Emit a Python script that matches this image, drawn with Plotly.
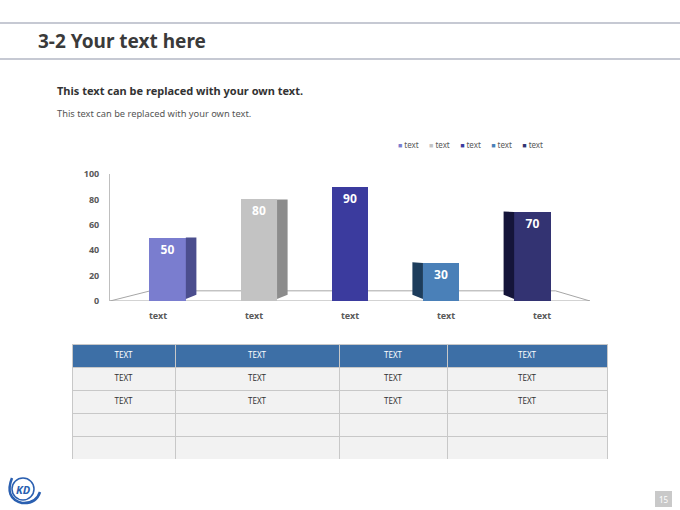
import plotly.graph_objects as go

# ---- data ----
categories = ["text", "text ", "text  ", "text   ", "text    "]
cat_labels = ["text", "text", "text", "text", "text"]
series_names = ["text", "text", "text", "text", "text"]
values = [50, 80, 90, 30, 70]
front_colors = ["#7a7dcf", "#c3c3c3", "#3b3b9e", "#4a80b8", "#333372"]
side_colors = ["#4b4e8e", "#8c8c8c", "#2a2a78", "#1d3d5c", "#15153a"]
y_ticks = [0, 20, 40, 60, 80, 100]

table_header = ["TEXT", "TEXT", "TEXT", "TEXT"]
table_rows = [
    ["TEXT", "TEXT", "TEXT", "TEXT"],
    ["TEXT", "TEXT", "TEXT", "TEXT"],
    ["", "", "", ""],
    ["", "", "", ""],
]
col_widths = [103, 164, 108, 160]

W, H = 680, 510
def px(x):
    return x / W
def py(y):
    return 1 - y / H

fig = go.Figure()

bar_w = 0.38
persp = 0.05  # perspective shift of bars toward the centre
shifts = [(2 - i) * persp for i in range(len(values))]
for i, (c, n, v, col) in enumerate(zip(categories, series_names, values, front_colors)):
    fig.add_trace(go.Bar(
        x=[c], y=[v], name=n, width=bar_w, offset=-bar_w / 2 + shifts[i],
        marker=dict(color=col, line=dict(width=0)),
        text=[str(v)], textposition="inside", insidetextanchor="end",
        textfont=dict(family="Noto Sans", size=12, color="white", weight="bold"),
        showlegend=False, hoverinfo="skip",
    ))

# 3D side faces derived from the data
depth = 0.11
shapes = []
for i, (v, sc) in enumerate(zip(values, side_colors)):
    if i < 2:
        x0 = i + shifts[i] + bar_w / 2
        path = f"M {x0},1.5 L {x0},{v} L {x0+depth},{v} L {x0+depth},{5} Z"
    elif i > 2:
        x0 = i + shifts[i] - bar_w / 2
        path = f"M {x0},1.5 L {x0},{v} L {x0-depth},{v+0.5} L {x0-depth},{5} Z"
    else:
        continue
    shapes.append(dict(type="path", path=path, xref="x", yref="y",
                       fillcolor=sc, line=dict(width=0), layer="above"))

# floor
floor_col = "#a6a6a6"
for (xa, ya, xb, yb) in [(-0.5, 0, 4.5, 0), (-0.5, 0, -0.08, 8), (-0.08, 8, 4.14, 8), (4.14, 8, 4.5, 0)]:
    shapes.append(dict(type="line", xref="x", yref="y", x0=xa, y0=ya, x1=xb, y1=yb,
                       line=dict(color=floor_col, width=1), layer="below"))

# slide decoration lines
for yy in [23, 59]:
    shapes.append(dict(type="line", xref="paper", yref="paper", x0=0, x1=1, y0=py(yy), y1=py(yy),
                       line=dict(color="#8d94a8", width=1.2)))
# page number box
shapes.append(dict(type="rect", xref="paper", yref="paper", x0=px(655), x1=px(672), y0=py(507), y1=py(491),
                   fillcolor="#c9c9c9", line=dict(width=0)))
# logo ring
shapes.append(dict(type="path", xref="paper", yref="paper",
                   path=f"M {px(12)},{py(478)} Q {px(4)},{py(498)} {px(22)},{py(503)} Q {px(36)},{py(504)} {px(40)},{py(492)}",
                   line=dict(color="#2a5fb0", width=2.5)))
shapes.append(dict(type="circle", xref="paper", yref="paper", x0=px(12), x1=px(34), y0=py(500), y1=py(478),
                   line=dict(color="#2a5fb0", width=1.5), fillcolor="rgba(0,0,0,0)"))

fig.add_trace(go.Table(
    domain=dict(x=[px(72), px(607)], y=[py(460), py(344)]),
    columnwidth=col_widths,
    header=dict(values=table_header, height=23, fill_color="#3d6fa6",
                line=dict(color="#c8c8c8", width=1),
                font=dict(family="Noto Sans", size=8, color="white"), align="center"),
    cells=dict(values=[list(col) for col in zip(*table_rows)], height=23, fill_color="#f2f2f2",
               line=dict(color="#c8c8c8", width=1),
               font=dict(family="Noto Sans", size=8, color="#333333"), align="center"),
))

# legend built from series names / colours
legend_text = "\u00a0\u00a0\u00a0\u00a0\u00a0".join(
    f"<span style='color:{c};font-size:7px'>■</span>\u00a0{n}" for n, c in zip(series_names, front_colors)
)

annotations = [
    dict(text="<b>3-2 Your text here</b>", x=px(36), y=py(41), xref="paper", yref="paper",
         xanchor="left", yanchor="middle", showarrow=False,
         font=dict(family="Noto Sans", size=19, color="#3a3a3a")),
    dict(text="<b>This text can be replaced with your own text.</b>", x=px(55), y=py(90), xref="paper", yref="paper",
         xanchor="left", yanchor="middle", showarrow=False,
         font=dict(family="Noto Sans", size=11, color="#333333")),
    dict(text="This text can be replaced with your own text.", x=px(55), y=py(114), xref="paper", yref="paper",
         xanchor="left", yanchor="middle", showarrow=False,
         font=dict(family="Noto Sans", size=9.3, color="#555555")),
    dict(text=legend_text, x=px(396), y=py(144), xref="paper", yref="paper",
         xanchor="left", yanchor="middle", showarrow=False,
         font=dict(family="Noto Sans", size=8, color="#595959")),
    dict(text="15", x=px(663.5), y=py(499), xref="paper", yref="paper",
         xanchor="center", yanchor="middle", showarrow=False,
         font=dict(family="Noto Sans", size=8, color="white")),
    dict(text="<b><i>KD</i></b>", x=px(23), y=py(489), xref="paper", yref="paper",
         xanchor="center", yanchor="middle", showarrow=False,
         font=dict(family="Noto Sans", size=11, color="#2a5fb0")),
]

fig.update_layout(
    width=W, height=H, autosize=False, margin=dict(l=0, r=0, t=0, b=0, pad=0),
    paper_bgcolor="white", plot_bgcolor="white",
    barmode="overlay", bargap=0,
    showlegend=False,
    xaxis=dict(domain=[px(110), px(590)], type="category", categoryorder="array", categoryarray=categories,
               range=[-0.5, 4.5], tickvals=categories, ticktext=cat_labels, fixedrange=True, automargin=False,
               showline=False, showgrid=False, zeroline=False, ticks="", ticklabelstandoff=8,
               tickfont=dict(family="Noto Sans", size=9, color="#595959", weight="bold")),
    yaxis=dict(domain=[py(301), py(174)], range=[0, 100], tickvals=y_ticks, fixedrange=True, automargin=False,
               showline=True, linecolor="#bfbfbf", linewidth=1, showgrid=False, zeroline=False,
               ticks="", ticklabelstandoff=8,
               tickfont=dict(family="Noto Sans", size=9, color="#595959", weight="bold")),
    shapes=shapes, annotations=annotations,
)

fig.write_html("out.html", config=dict(displayModeBar=False, responsive=False),
               post_script="document.body.style.margin='0';document.body.style.overflow='hidden';")
